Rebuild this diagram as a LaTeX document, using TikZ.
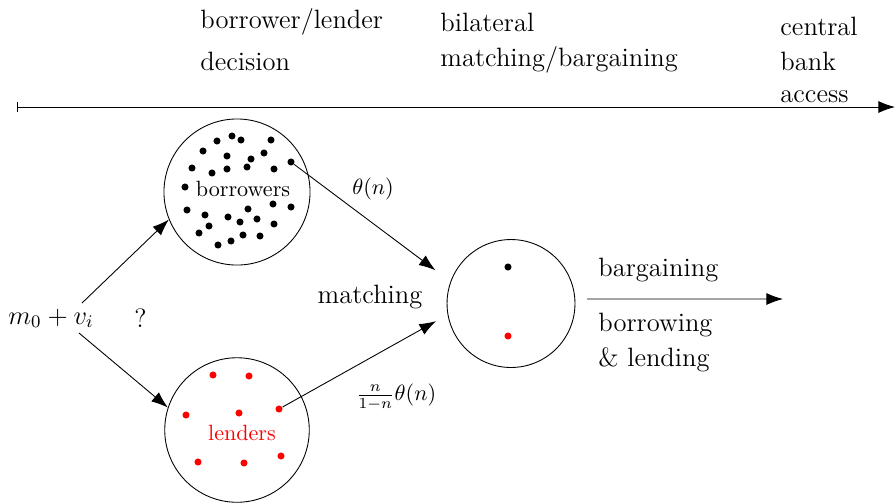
\documentclass[tikz,border=0pt]{standalone}
\usetikzlibrary{arrows.meta, calc}
\tikzset{
  every picture/.style={line width=0.4pt},
  pool/.style={draw, circle, inner sep=0pt, minimum size=#1},
  bdot/.style={circle, fill=black, inner sep=0pt, minimum size=3.2pt},
  ldot/.style={bdot, fill=red},
  arrow/.style={-{Latex[length=7.5pt, width=5.4pt]}},
  stage/.style={font=\large, anchor=base west, inner sep=0pt},
  tag/.style={font=\large, anchor=base, inner sep=0pt},
  rate/.style={inner sep=1pt},
}

\begin{document}
\begin{tikzpicture}[x=0.4525pt, y=0.4525pt]
  \useasboundingbox (0,0) rectangle (896,-503);
  \coordinate (t0) at (17,-107);
  \coordinate (t1) at (895,-107);
  \draw[{Bar[width=4.6pt]}-{Latex[length=7.5pt, width=5.4pt]}] (t0) -- (t1);
  \node[stage] (st1a) at (200,-28) {borrower/lender};
  \node[stage] (st1b) at (200,-70) {decision};
  \node[stage] (st2a) at (440,-31) {bilateral};
  \node[stage] (st2b) at (440,-66) {matching/bargaining};
  \node[stage] (st3a) at (780,-35) {central};
  \node[stage] (st3b) at (780,-70) {bank};
  \node[stage] (st3c) at (780,-102) {access};

  \node[pool=66.1pt] (bor) at (237,-192) {};
  \node[pool=65.4pt] (len) at (237,-430) {};
  \node[pool=57.9pt] (mt) at (511,-303.5) {};
  \foreach \p [count=\i] in {(232,-136),(217,-141),(241,-140),(271,-140),(203,-151),
    (227,-156),(264,-153),(251,-159),(291,-162),(192,-168),(212,-173),(227,-169),
    (247,-167),(274,-169),(185,-187),(187,-210),(205,-215),(248,-209),(273,-204),
    (291,-207),(228,-217),(257,-219),(240,-222),(209,-226),(274,-224),(199,-233),
    (243,-235),(260,-236),(231,-241),(218,-245)}
    \node[bdot] (b\i) at \p {};
  \foreach \p [count=\i] in {(213,-375),(249,-376),(186,-415),(239,-413),(279,-409),
    (198,-462),(244,-463),(281,-456)}
    \node[ldot] (l\i) at \p {};
  \node[bdot] (mb) at (508,-267) {};
  \node[ldot] (ml) at (508,-336) {};
  \node[anchor=base, inner sep=0pt] (borlab) at (243,-196) {borrowers};
  \node[anchor=base, inner sep=0pt, text=red] (lenlab) at (242,-440) {lenders};

  \node[stage] (mv) at (8,-324) {$m_0+v_i$};
  \node[stage] (q) at (134,-327) {?};
  \draw[arrow] ($(mv.base west)+(74,21)$) -- (bor.202);
  \draw[arrow] ($(mv.base west)+(71,-9)$) -- (len.162);

  \draw[arrow, shorten >=8.5pt] (b9) -- (mt.160);
  \draw[arrow, shorten >=6pt] (l5) -- (mt.190);
  \node[rate] (th1) at (373,-189) {$\theta(n)$};
  \node[rate] (th2) at (396,-397) {$\frac{n}{1-n}\theta(n)$};
  \node[tag] (match) at (370,-303) {matching};

  \coordinate (out) at (783,-299);
  \draw[arrow, shorten <=5.4pt] (mt.4) -- (out);
  \node[stage] (barg) at (598,-276) {bargaining};
  \node[stage] (bl1) at (598,-331) {borrowing};
  \node[stage] (bl2) at (598,-366) {\& lending};
\end{tikzpicture}
\end{document}
